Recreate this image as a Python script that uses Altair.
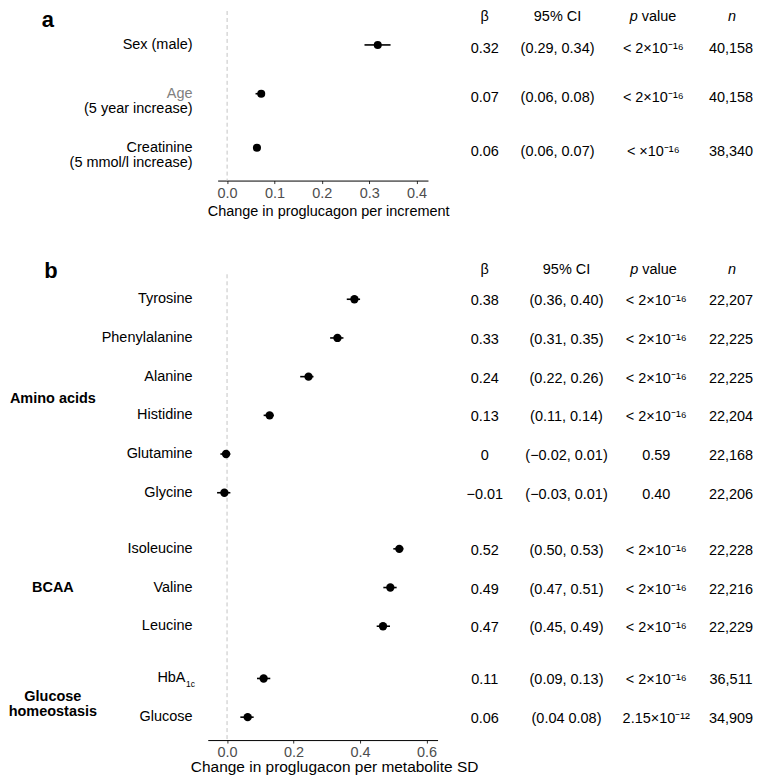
import altair as alt
import pandas as pd

FONT = "Liberation Sans"
FS = 14.5

# ---------------- panel a data ----------------
a_label1 = ["Sex (male)", "Age", "Creatinine"]
a_label2 = ["", "(5 year increase)", "(5 mmol/l increase)"]
a_row = [1, 1.95, 3]
a_est = [0.318, 0.072, 0.063]
a_lo = [0.29, 0.06, 0.06]
a_hi = [0.345, 0.08, 0.07]
a_beta_txt = ["0.32", "0.07", "0.06"]
a_ci_txt = ["(0.29, 0.34)", "(0.06, 0.08)", "(0.06, 0.07)"]
a_p_txt = ["< 2×10⁻¹⁶", "< 2×10⁻¹⁶", "< ×10⁻¹⁶"]
a_n_txt = ["40,158", "40,158", "38,340"]
a_ticks = [0.0, 0.1, 0.2, 0.3, 0.4]

# ---------------- panel b data ----------------
b_label = ["Tyrosine", "Phenylalanine", "Alanine", "Histidine", "Glutamine", "Glycine",
           "Isoleucine", "Valine", "Leucine", "HbA", "Glucose"]
b_sub = ["", "", "", "", "", "", "", "", "", "1c", ""]
b_row = [1, 2, 3, 4, 5, 6, 7.45, 8.45, 9.45, 10.8, 11.8]
b_est = [0.383, 0.332, 0.245, 0.128, -0.003, -0.008, 0.518, 0.491, 0.469, 0.11, 0.062]
b_lo = [0.36, 0.31, 0.22, 0.11, -0.02, -0.03, 0.50, 0.47, 0.45, 0.09, 0.04]
b_hi = [0.40, 0.35, 0.26, 0.14, 0.01, 0.01, 0.53, 0.51, 0.49, 0.13, 0.08]
b_beta_txt = ["0.38", "0.33", "0.24", "0.13", "0", "−0.01", "0.52", "0.49", "0.47", "0.11", "0.06"]
b_ci_txt = ["(0.36, 0.40)", "(0.31, 0.35)", "(0.22, 0.26)", "(0.11, 0.14)", "(−0.02, 0.01)",
            "(−0.03, 0.01)", "(0.50, 0.53)", "(0.47, 0.51)", "(0.45, 0.49)", "(0.09, 0.13)",
            "(0.04 0.08)"]
b_p_txt = ["< 2×10⁻¹⁶", "< 2×10⁻¹⁶", "< 2×10⁻¹⁶", "< 2×10⁻¹⁶", "0.59", "0.40",
           "< 2×10⁻¹⁶", "< 2×10⁻¹⁶", "< 2×10⁻¹⁶", "< 2×10⁻¹⁶", "2.15×10⁻¹²"]
b_n_txt = ["22,207", "22,225", "22,225", "22,204", "22,168", "22,206", "22,228", "22,216",
           "22,229", "36,511", "34,909"]
b_groups = ["Amino acids", "BCAA", "Glucose\nhomeostasis"]
b_group_row = [3.57, 8.45, 11.27]
b_ticks = [0.0, 0.2, 0.4, 0.6]

W = 736


def note(text, x, y, **kw):
    base = dict(font=FONT, fontSize=FS, baseline="middle", color="black")
    base.update(kw)
    return alt.Chart(pd.DataFrame({"t": [text]})).mark_text(**base).encode(
        x=alt.value(x), y=alt.value(y), text="t:N")


def make_axis(ticks, title, title_x, label_pad, title_pad, title_size):
    return alt.Axis(values=ticks, format=".1f", title=title, titleX=title_x,
                    titleFont=FONT, titleFontSize=title_size, titleFontWeight="normal",
                    titleColor="black", labelFont=FONT, labelFontSize=FS,
                    labelColor="#4d4d4d", tickSize=3, tickColor="#333333",
                    domainColor="black", domainWidth=1, labelPadding=label_pad,
                    titlePadding=title_pad, grid=False)


def panel(df, x_scale, axis, y_scale, height, rule_top, table_x, table_dy, dot):
    y = alt.Y("row:Q", scale=y_scale, axis=None)

    def X(f):
        return alt.X(f"{f}:Q", scale=x_scale, axis=axis)

    zero = alt.Chart(pd.DataFrame({"zero": [0.0]})).mark_rule(
        color="#c4c4c4", strokeDash=[4, 3], strokeWidth=1).encode(
        x=X("zero"), y=alt.value(rule_top), y2=alt.value(height))
    err = alt.Chart(df).mark_rule(color="black", strokeWidth=1.6).encode(
        x=X("lo"), x2="hi:Q", y=y)
    pts = alt.Chart(df).mark_circle(size=dot, color="black", opacity=1).encode(
        x=X("est"), y=y)
    layers = [zero, err, pts]
    for field, xp in zip(["beta_txt", "ci_txt", "p_txt", "n_txt"], table_x):
        layers.append(alt.Chart(df).mark_text(
            font=FONT, fontSize=FS, align="center", baseline="middle", dy=table_dy,
            color="black").encode(x=alt.value(xp), y=y, text=f"{field}:N"))
    return layers, y


# ---------------- panel a ----------------
dfa = pd.DataFrame({
    "row": a_row, "est": a_est, "lo": a_lo, "hi": a_hi,
    "label1": a_label1,
    "beta_txt": a_beta_txt, "ci_txt": a_ci_txt, "p_txt": a_p_txt, "n_txt": a_n_txt,
})
dfa["line1"] = [l1 + "\n " if l2 else l1 for l1, l2 in zip(a_label1, a_label2)]
dfa["line2"] = [" \n" + l2 if l2 else "" for l2 in a_label2]

HA = 172
ya_scale = alt.Scale(domain=[0.30097, 3.6408], reverse=True, nice=False, zero=False)
xa_scale = alt.Scale(domain=[-0.02, 0.424], range=[209.2, 420.1], nice=False, zero=False)
axis_a = make_axis(a_ticks, "Change in proglucagon per increment", 320, 3, 5, FS)

layers_a, ya = panel(dfa, xa_scale, axis_a, ya_scale, HA, 2, [477, 550, 646, 724], 4, 65)
lab1 = alt.Chart(dfa).mark_text(font=FONT, fontSize=FS, align="right", baseline="middle",
                                lineBreak="\n", lineHeight=15).encode(
    x=alt.value(184), y=ya, text="line1:N",
    color=alt.condition("datum.label1 == 'Age'", alt.value("#808080"), alt.value("black")))
lab2 = alt.Chart(dfa).mark_text(font=FONT, fontSize=FS, align="right", baseline="middle",
                                lineBreak="\n", lineHeight=15, color="black").encode(
    x=alt.value(184), y=ya, text="line2:N")
heads_a = [
    note("a", 39, 11, fontSize=22, fontWeight="bold", align="center"),
    note("β", 477, 8, align="center"),
    note("95% CI", 550, 8, align="center"),
    note("p", 622.5, 8, align="left", fontStyle="italic"),
    note("value", 634.5, 8, align="left"),
    note("n", 725, 8, align="center", fontStyle="italic"),
]
panel_a = alt.layer(*layers_a, lab1, lab2, *heads_a).properties(width=W, height=HA)

# ---------------- panel b ----------------
dfb = pd.DataFrame({
    "row": b_row, "est": b_est, "lo": b_lo, "hi": b_hi, "label": b_label, "sub": b_sub,
    "beta_txt": b_beta_txt, "ci_txt": b_ci_txt, "p_txt": b_p_txt, "n_txt": b_n_txt,
})
dfg = pd.DataFrame({"group": b_groups, "row": b_group_row})

HB = 487
yb_scale = alt.Scale(domain=[-0.15979, 12.3918], reverse=True, nice=False, zero=False)
xb_scale = alt.Scale(domain=[-0.058, 0.633], range=[199.3, 429.7], nice=False, zero=False)
axis_b = make_axis(b_ticks, "Change in proglugacon per metabolite SD", 326, 2, 1, 15.5)

layers_b, yb = panel(dfb, xb_scale, axis_b, yb_scale, HB, 20, [477, 559, 649, 724], 2, 70)
labb = alt.Chart(dfb).transform_filter("datum.sub == ''").mark_text(
    font=FONT, fontSize=FS, align="right", baseline="middle", color="black").encode(
    x=alt.value(184), y=yb, text="label:N")
labb_main = alt.Chart(dfb).transform_filter("datum.sub != ''").mark_text(
    font=FONT, fontSize=FS, align="right", baseline="middle", color="black").encode(
    x=alt.value(177), y=yb, text="label:N")
labb_sub = alt.Chart(dfb).transform_filter("datum.sub != ''").mark_text(
    font=FONT, fontSize=8.5, align="left", baseline="middle", dy=6, color="black").encode(
    x=alt.value(177.5), y=yb, text="sub:N")
grp = alt.Chart(dfg).mark_text(font=FONT, fontSize=FS, fontWeight="bold", align="center",
                               baseline="middle", lineBreak="\n", lineHeight=15,
                               color="black").encode(
    x=alt.value(44), y=alt.Y("row:Q", scale=yb_scale, axis=None), text="group:N")
heads_b = [
    note("b", 42, 17, fontSize=22, fontWeight="bold", align="center"),
    note("β", 477, 16, align="center"),
    note("95% CI", 559, 16, align="center"),
    note("p", 623, 16, align="left", fontStyle="italic"),
    note("value", 635, 16, align="left"),
    note("n", 725, 16, align="center", fontStyle="italic"),
]
panel_b = alt.layer(*layers_b, labb, labb_main, labb_sub, grp, *heads_b).properties(
    width=W, height=HB)

chart = alt.vconcat(panel_a, panel_b, spacing=36).properties(
    padding=0, background="white").configure_view(stroke=None)

chart.save("out.html", embed_options={"renderer": "svg", "actions": False})
